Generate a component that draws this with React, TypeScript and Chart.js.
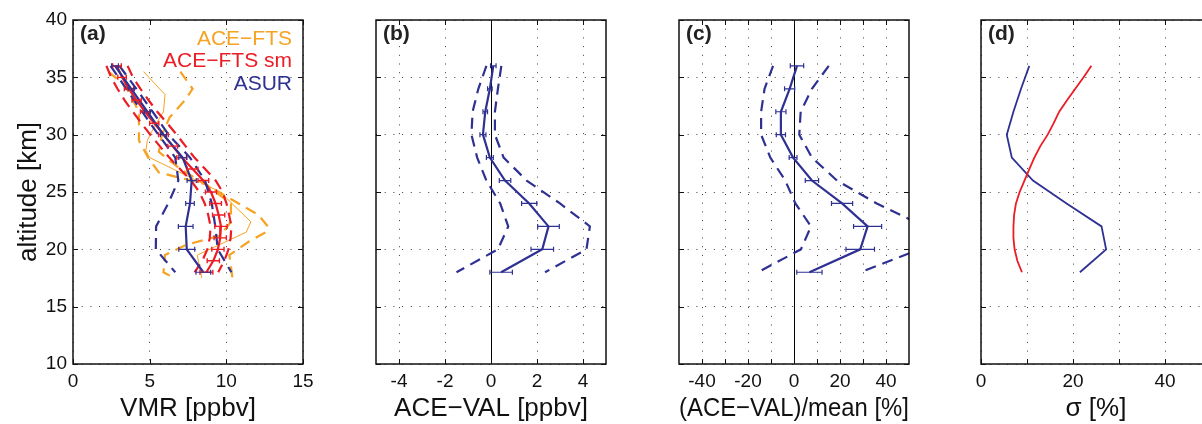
import React, { useEffect, useRef } from 'react';
import { Chart, registerables } from 'chart.js';

Chart.register(...registerables);

// ---------------- data ----------------
// altitude grids [km]
const altAsur = [36, 34, 32, 30, 28, 26, 24, 22, 20, 18];
const altSm = [36, 35, 34, 33, 32, 31, 30, 29, 28, 27, 26, 25, 24, 23, 22, 21, 20, 19, 18];
const altFts = [35.5, 33.5, 32, 30.7, 29.5, 28.6, 28.0, 25, 22.4, 21.5, 19.5, 17.5];
const altFtsLow = [35.5, 34.3, 32, 29.5, 28, 26.7, 25.7, 24, 22.4, 21.2, 20.4, 19.5, 18, 17.5];
const altFtsHigh = [35.5, 34, 33, 31.5, 30, 28.5, 27, 25, 24, 23, 22, 21.5, 20.7, 19.5, 17.5];

// (a) VMR [ppbv]
const asurVmr = [2.74, 3.8, 4.85, 5.9, 7.15, 7.74, 7.63, 7.35, 7.42, 8.5];
const asurVmrLow = [2.45, 3.47, 4.51, 5.57, 6.67, 6.87, 6.21, 5.42, 5.4, 6.67];
const asurVmrHigh = [3.03, 4.13, 5.19, 6.23, 7.63, 8.61, 9.05, 9.28, 9.44, 10.33];
const asurVmrErr = [0.22, 0.2, 0.2, 0.2, 0.25, 0.3, 0.28, 0.48, 0.52, 0.48];

const smVmr = [2.87, 3.2, 3.65, 4.15, 4.7, 5.3, 5.9, 6.5, 7.1, 7.8, 8.5, 9.0, 9.3, 9.5, 9.65, 9.6, 9.45, 9.15, 8.7];
const smVmrLow = [2.18, 2.49, 2.9, 3.37, 3.9, 4.46, 5.04, 5.66, 6.28, 6.98, 7.7, 8.24, 8.59, 8.82, 8.97, 8.92, 8.76, 8.43, 7.93];
const smVmrHigh = [3.56, 3.91, 4.4, 4.93, 5.5, 6.14, 6.76, 7.34, 7.92, 8.62, 9.3, 9.76, 10.01, 10.18, 10.33, 10.28, 10.14, 9.87, 9.47];
const smVmrErr = [0.28, 0.28, 0.3, 0.3, 0.3, 0.3, 0.32, 0.32, 0.33, 0.35, 0.35, 0.36, 0.38, 0.4, 0.4, 0.4, 0.4, 0.4, 0.42];

const ftsVmr = [4.6, 6.0, 5.9, 5.3, 4.85, 4.75, 5.0, 9.6, 11.6, 11.3, 8.1, 8.4];
const ftsVmrLow = [2.3, 3.4, 4.3, 4.3, 4.9, 5.6, 8.6, 10.3, 10.3, 9.6, 7.4, 6.0, 5.9, 6.6];
const ftsVmrHigh = [7.0, 7.8, 7.3, 6.3, 5.8, 5.6, 7.0, 9.5, 10.8, 12.1, 12.7, 12.6, 11.5, 10.2, 10.4];

// (b) ACE-VAL [ppbv]
const absDiff = [0.1, -0.05, -0.25, -0.35, -0.05, 0.61, 1.66, 2.5, 2.23, 0.44];
const absDiffLow = [-0.2, -0.55, -0.8, -0.85, -0.6, -0.2, 0.4, 0.75, 0.3, -1.5];
const absDiffHigh = [0.45, 0.3, 0.17, 0.17, 0.55, 1.55, 3.0, 4.3, 4.15, 2.35];
const absDiffErr = [0.12, 0.1, 0.1, 0.13, 0.15, 0.25, 0.33, 0.47, 0.49, 0.49];

// (c) (ACE-VAL)/mean [%]
const relDiff = [1.3, -1.9, -5.7, -5.7, -0.4, 7.8, 20.9, 32, 28.8, 6.7];
const relDiffLow = [-9.1, -12.8, -14.3, -14.3, -10.3, -3.8, 0.6, 7.4, 3.0, -15.7];
const relDiffHigh = [15.1, 7.8, 2.9, 2.3, 7.8, 18.7, 36, 56.6, 54.6, 28.8];
const relDiffErr = [2.9, 2.2, 2.2, 2.0, 1.7, 2.9, 4.6, 6.1, 6.2, 5.5];

// (d) sigma [%]
const sigmaAsur = [10.5, 8.7, 7.05, 5.6, 6.7, 11.3, 18.6, 26.2, 27.2, 21.5];
const sigmaSm = [24, 22.3, 20.5, 18.7, 17, 15.8, 14.5, 12.9, 11.6, 10.5, 9.45, 8.4, 7.6, 7.2, 7.05, 7.05, 7.3, 7.9, 8.9];

// ticks
const altTicks = [10, 15, 20, 25, 30, 35, 40];
const vmrTicks = [0, 5, 10, 15];
const absTicks = [-4, -2, 0, 2, 4];
const relTicks = [-40, -30, -20, -10, 0, 10, 20, 30, 40];
const relTickLabels = [-40, -20, 0, 20, 40];
const sigTicks = [0, 10, 20, 30, 40, 50];
const sigTickLabels = [0, 20, 40];

// axis ranges
const altRange = [10, 40];
const vmrRange = [0, 15];
const absRange = [-5, 5];
const relRange = [-50, 50];
const sigRange = [0, 50];

// ---------------- styles / layout ----------------
const FONT = '"Liberation Sans", Arial, Helvetica, sans-serif';
const BLUE = '#2E3192';
const RED = '#EC1C24';
const ORANGE = '#F6A323';
const GRID = '#3c3c3c';
const DASH = [11, 7];
const CANVAS_W = 1220;
const CANVAS_H = 424;
const PANEL_LEFT = [73, 376, 679, 981];
const PANEL_W = 230;
const PLOT_TOP = 20;
const XAXIS_H = 60;

function pts(xs: number[], ys: number[]) {
  return xs.map((x, i) => ({ x, y: ys[i] }));
}

function line(xs: number[], ys: number[], color: string, width: number, dash: number[] = []) {
  return {
    data: pts(xs, ys),
    borderColor: color,
    backgroundColor: color,
    borderWidth: width,
    borderDash: dash,
    pointRadius: 0,
    showLine: true,
    fill: false,
    tension: 0,
  };
}

const framePlugin = {
  id: 'frame',
  beforeDatasetsDraw(chart: any, _args: any, opts: any) {
    if (!opts.zeroLine) return;
    const { ctx, chartArea: ca, scales } = chart;
    const px = Math.round(scales.x.getPixelForValue(0)) + 0.5;
    ctx.save();
    ctx.strokeStyle = '#000';
    ctx.lineWidth = 1;
    ctx.beginPath();
    ctx.moveTo(px, ca.top);
    ctx.lineTo(px, ca.bottom);
    ctx.stroke();
    ctx.restore();
  },
  afterDatasetsDraw(chart: any, _args: any, opts: any) {
    const { ctx, chartArea: ca, scales } = chart;
    const x = scales.x;
    const y = scales.y;
    // error bars
    ctx.save();
    ctx.beginPath();
    ctx.rect(ca.left, ca.top, ca.right - ca.left, ca.bottom - ca.top);
    ctx.clip();
    (opts.errorBars || []).forEach((eb: any) => {
      ctx.strokeStyle = eb.color;
      ctx.lineWidth = eb.width;
      eb.alt.forEach((a: number, i: number) => {
        const py = y.getPixelForValue(a);
        const x1 = x.getPixelForValue(eb.center[i] - eb.err[i]);
        const x2 = x.getPixelForValue(eb.center[i] + eb.err[i]);
        ctx.beginPath();
        ctx.moveTo(x1, py);
        ctx.lineTo(x2, py);
        ctx.moveTo(x1, py - 2.5);
        ctx.lineTo(x1, py + 2.5);
        ctx.moveTo(x2, py - 2.5);
        ctx.lineTo(x2, py + 2.5);
        ctx.stroke();
      });
    });
    ctx.restore();

    // box and inward ticks
    ctx.save();
    ctx.strokeStyle = '#111';
    ctx.lineWidth = 1.5;
    ctx.strokeRect(ca.left, ca.top, ca.right - ca.left, ca.bottom - ca.top);
    ctx.lineWidth = 1;
    ctx.beginPath();
    x.ticks.forEach((t: any) => {
      const px = Math.round(x.getPixelForValue(t.value)) + 0.5;
      ctx.moveTo(px, ca.bottom);
      ctx.lineTo(px, ca.bottom - 5);
      ctx.moveTo(px, ca.top);
      ctx.lineTo(px, ca.top + 5);
    });
    y.ticks.forEach((t: any) => {
      const py = Math.round(y.getPixelForValue(t.value)) + 0.5;
      ctx.moveTo(ca.left, py);
      ctx.lineTo(ca.left + 5, py);
      ctx.moveTo(ca.right, py);
      ctx.lineTo(ca.right - 5, py);
    });
    ctx.stroke();

    // panel letter
    if (opts.letter) {
      ctx.fillStyle = '#222';
      ctx.font = `bold 21px ${FONT}`;
      ctx.textAlign = 'left';
      ctx.textBaseline = 'middle';
      ctx.fillText(opts.letter, ca.left + 7, ca.top + 14);
    }
    // in-plot legend text
    (opts.legend || []).forEach((item: any, i: number) => {
      ctx.fillStyle = item.color;
      ctx.font = `21px ${FONT}`;
      ctx.textAlign = 'right';
      ctx.textBaseline = 'middle';
      ctx.fillText(item.text, ca.right - 11, ca.top + 19 + i * 22.5);
    });
    ctx.restore();
  },
};

type Panel = {
  left: number;
  xRange: number[];
  xTicks: number[];
  xLabels: number[];
  xTitle: string;
  showY: boolean;
  datasets: any[];
  frame: any;
};

const panels: Panel[] = [
  {
    left: PANEL_LEFT[0],
    xRange: vmrRange,
    xTicks: vmrTicks,
    xLabels: vmrTicks,
    xTitle: 'VMR [ppbv]',
    showY: true,
    datasets: [
      line(asurVmr, altAsur, BLUE, 2.2),
      line(asurVmrLow, altAsur, BLUE, 2.2, DASH),
      line(asurVmrHigh, altAsur, BLUE, 2.2, DASH),
      line(smVmr, altSm, RED, 2.2),
      line(smVmrLow, altSm, RED, 2.2, DASH),
      line(smVmrHigh, altSm, RED, 2.2, DASH),
      line(ftsVmr, altFts, ORANGE, 1),
      line(ftsVmrLow, altFtsLow, ORANGE, 2.2, DASH),
      line(ftsVmrHigh, altFtsHigh, ORANGE, 2.2, DASH),
    ],
    frame: {
      letter: '(a)',
      legend: [
        { text: 'ACE\u2212FTS', color: ORANGE },
        { text: 'ACE\u2212FTS sm', color: RED },
        { text: 'ASUR', color: BLUE },
      ],
      errorBars: [
        { alt: altSm, center: smVmr, err: smVmrErr, color: RED, width: 1.4 },
        { alt: altAsur, center: asurVmr, err: asurVmrErr, color: BLUE, width: 1.2 },
      ],
    },
  },
  {
    left: PANEL_LEFT[1],
    xRange: absRange,
    xTicks: absTicks,
    xLabels: absTicks,
    xTitle: 'ACE\u2212VAL [ppbv]',
    showY: false,
    datasets: [
      line(absDiff, altAsur, BLUE, 2.2),
      line(absDiffLow, altAsur, BLUE, 2.2, DASH),
      line(absDiffHigh, altAsur, BLUE, 2.2, DASH),
    ],
    frame: {
      letter: '(b)',
      zeroLine: true,
      errorBars: [{ alt: altAsur, center: absDiff, err: absDiffErr, color: BLUE, width: 1.2 }],
    },
  },
  {
    left: PANEL_LEFT[2],
    xRange: relRange,
    xTicks: relTicks,
    xLabels: relTickLabels,
    xTitle: '(ACE\u2212VAL)/mean [%]',
    showY: false,
    datasets: [
      line(relDiff, altAsur, BLUE, 2.2),
      line(relDiffLow, altAsur, BLUE, 2.2, DASH),
      line(relDiffHigh, altAsur, BLUE, 2.2, DASH),
    ],
    frame: {
      letter: '(c)',
      zeroLine: true,
      errorBars: [{ alt: altAsur, center: relDiff, err: relDiffErr, color: BLUE, width: 1.2 }],
    },
  },
  {
    left: PANEL_LEFT[3],
    xRange: sigRange,
    xTicks: sigTicks,
    xLabels: sigTickLabels,
    xTitle: '\u03c3 [%]',
    showY: false,
    datasets: [line(sigmaSm, altSm, RED, 1.8), line(sigmaAsur, altAsur, BLUE, 1.8)],
    frame: { letter: '(d)' },
  },
];

function makeConfig(p: Panel): any {
  const yWidth = p.showY ? p.left : 0;
  return {
    type: 'scatter',
    data: { datasets: p.datasets },
    options: {
      animation: false,
      responsive: false,
      events: [],
      layout: {
        padding: {
          left: p.showY ? 0 : p.left,
          right: CANVAS_W - p.left - PANEL_W,
          top: PLOT_TOP,
          bottom: 0,
        },
      },
      plugins: {
        legend: { display: false },
        tooltip: { enabled: false },
        frame: p.frame,
      },
      scales: {
        x: {
          type: 'linear',
          position: 'bottom',
          min: p.xRange[0],
          max: p.xRange[1],
          afterBuildTicks: (s: any) => {
            s.ticks = p.xTicks.map((v) => ({ value: v }));
          },
          afterFit: (s: any) => {
            s.height = XAXIS_H;
          },
          ticks: {
            autoSkip: false,
            maxRotation: 0,
            padding: 6,
            color: '#111',
            font: { family: FONT, size: 19 },
            callback: (v: number) => (p.xLabels.includes(v) ? String(v) : ''),
          },
          grid: { color: GRID, lineWidth: 1, drawTicks: false },
          border: { display: false, dash: [1, 7.7] },
          title: {
            display: true,
            text: p.xTitle,
            color: '#111',
            font: { family: FONT, size: 26 },
            padding: { top: 0, bottom: 0 },
          },
        },
        y: {
          type: 'linear',
          position: 'left',
          min: altRange[0],
          max: altRange[1],
          afterBuildTicks: (s: any) => {
            s.ticks = altTicks.map((v) => ({ value: v }));
          },
          afterFit: (s: any) => {
            s.width = yWidth;
          },
          ticks: {
            display: p.showY,
            autoSkip: false,
            padding: 6,
            color: '#111',
            font: { family: FONT, size: 19 },
            callback: (v: number) => String(v),
          },
          grid: { color: GRID, lineWidth: 1, drawTicks: false },
          border: { display: false, dash: [1, 7.7] },
          title: {
            display: p.showY,
            text: 'altitude [km]',
            color: '#111',
            font: { family: FONT, size: 26 },
            padding: { top: 13, bottom: 0 },
          },
        },
      },
    },
    plugins: [framePlugin],
  };
}

export default function App() {
  const canvases = useRef<(HTMLCanvasElement | null)[]>([]);
  useEffect(() => {
    const charts = panels.map((p, i) => new Chart(canvases.current[i] as HTMLCanvasElement, makeConfig(p)));
    return () => charts.forEach((c) => c.destroy());
  }, []);
  return (
    <div
      style={{
        position: 'fixed',
        left: 0,
        top: 0,
        width: 1202,
        height: CANVAS_H,
        overflow: 'hidden',
        background: '#fff',
      }}
    >
      {panels.map((p, i) => (
        <canvas
          key={i}
          ref={(el) => {
            canvases.current[i] = el;
          }}
          width={CANVAS_W}
          height={CANVAS_H}
          style={{ position: 'absolute', left: 0, top: 0, width: CANVAS_W, height: CANVAS_H }}
        />
      ))}
    </div>
  );
}
